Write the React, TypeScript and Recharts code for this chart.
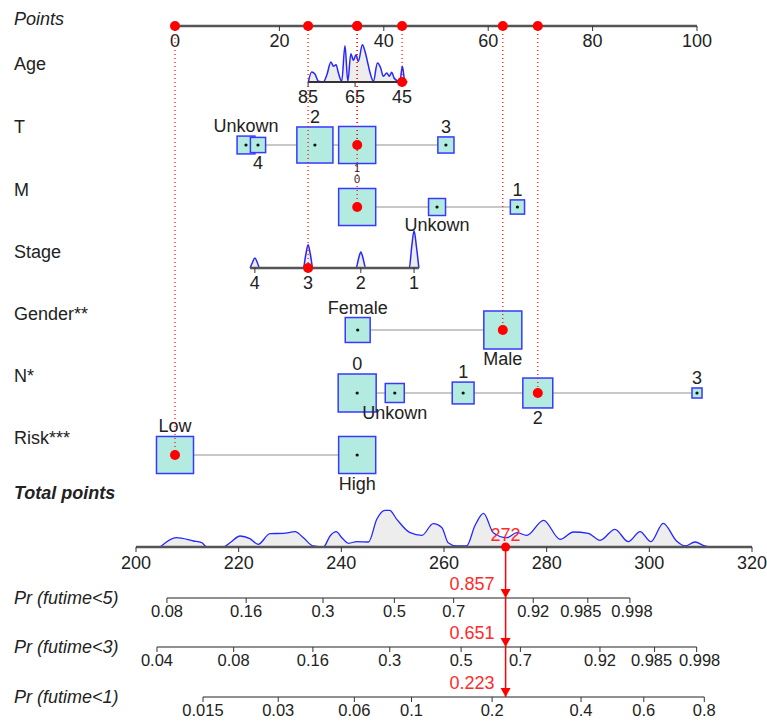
import React from "react";
import { ComposedChart, XAxis, YAxis, Line, Area, Scatter } from "recharts";

// ---------- values ----------
const pointTicks = [0, 20, 40, 60, 80, 100];

const rowTitles = [
  "Points", "Age", "T", "M", "Stage", "Gender**", "N*", "Risk***",
  "Total points", "Pr (futime<5)", "Pr (futime<3)", "Pr (futime<1)",
];

// Age: continuous, drawn reversed (85 on the left)
const ageTicks = [85, 65, 45];
const ageAnchors = [85, 45];
const ageAnchorPoints = [25.5, 43.5];
const ageGrid = [
  84.9, 83.5, 82.1, 80.6, 78.5, 77.0, 75.3, 74.2, 73.1, 72.1, 70.7, 69.3,
  68.1, 66.8, 65.7, 64.6, 63.6, 61.9, 60.8, 59.6, 58.6, 57.2, 55.5, 54.1,
  53.0, 51.5, 50.4, 49.4, 48.4, 47.0, 45.9, 44.9, 43.8, 42.8,
];
const ageDensity = [
  0, 10, 8, 0.7, 0, 7.3, 20, 15.7, 17.3, 9, 0.7, 36.3,
  0.7, 28.3, 21.7, 27.3, 20.7, 37.3, 30.7, 19, 9, 0.7, 19, 14,
  5.7, 9, 5.7, 9.7, 4, 1.3, 0.7, 15.7, 0.7, 0,
];

const tLevels = ["1", "2", "3", "4", "Unkown"];
const tPoints = [34.9, 26.8, 51.9, 15.9, 13.6];
const tCounts = [95, 90, 18, 16, 22];

const mLevels = ["0", "1", "Unkown"];
const mPoints = [34.9, 65.6, 50.2];
const mCounts = [95, 14, 20];

// Stage: ordinal axis with a density spike at each level
const stageLevels = [4, 3, 2, 1];
const stagePoints = [15.3, 25.5, 35.6, 45.8];
const stageGrid = [
  4.09, 4.045, 4, 3.955, 3.91, 3.09, 3.045, 3, 2.955, 2.91,
  2.09, 2.045, 2, 1.955, 1.91, 1.09, 1.045, 1, 0.955, 0.91,
];
const stageDensity = [
  0, 5.5, 10, 5.5, 0, 0, 13, 23.3, 13, 0,
  0, 9, 16, 9, 0, 0, 21, 37.3, 21, 0,
];

const genderLevels = ["Female", "Male"];
const genderPoints = [35.0, 62.8];
const genderCounts = [43, 100];

const nLevels = ["0", "1", "2", "3", "Unkown"];
const nPoints = [34.9, 55.2, 69.5, 100, 42.1];
const nCounts = [100, 33, 62, 7, 25];

const riskLevels = ["High", "Low"];
const riskPoints = [34.9, 0];
const riskCounts = [95, 95];

const totalTicks = [200, 220, 240, 260, 280, 300, 320];
const totalGrid = [
  204.7, 207.9, 211.2, 212.8, 213.8, 217.0, 218.3, 220.3, 222.2, 223.8,
  226.1, 228.7, 231.0, 232.6, 234.5, 236.5, 237.8, 239.0, 240.1, 241.4,
  243.0, 245.3, 246.9, 248.5, 249.4, 250.8, 253.4, 255.7, 257.9, 259.6,
  260.8, 262.5, 264.4, 266.0, 267.7, 269.6, 272.2, 274.2, 276.1, 279.4,
  282.6, 285.2, 288.1, 290.4, 293.3, 295.9, 298.2, 300.3, 302.7, 305.3,
  307.0, 308.9, 310.8, 311.8,
];
const totalDensity = [
  0, 9.3, 6, 4.3, 0, 0, 4.3, 11, 8.3, 2.7,
  13.3, 13.7, 15.3, 9.3, 1, 0, 11, 15.3, 9.3, 3.7,
  5.3, 5, 27.7, 36.7, 36.7, 27.7, 14.3, 11.7, 23.3, 19.3,
  4.3, 1, 1, 21, 33.7, 14.3, 9.3, 14.3, 11.7, 26.7,
  7.7, 15, 13.7, 6.7, 17.7, 5.3, 15.3, 5.3, 23.7, 6,
  1, 5, 1, 0,
];

const prTicks5 = [0.08, 0.16, 0.3, 0.5, 0.7, 0.92, 0.985, 0.998];
const prTicks3 = [0.04, 0.08, 0.16, 0.3, 0.5, 0.7, 0.92, 0.985, 0.998];
const prTicks1 = [0.015, 0.03, 0.06, 0.1, 0.2, 0.4, 0.6, 0.8];
// total points at which cloglog(Pr) = 0, and total points per cloglog unit
const prCenters = [258.0, 271.0, 300.75];
const prSlope = 20.92;
const prValues = [0.857, 0.651, 0.223];

// the patient shown in red
const selAge = 45;
const selT = "1";
const selM = "0";
const selStage = 3;
const selGender = "Male";
const selN = "2";
const selRisk = "Low";
const totalScore = 272;

// ---------- layout ----------
const W = 767;
const H = 721;
const FONT = "'Liberation Sans', Arial, Helvetica, sans-serif";
const TEXT = "#222";
const RED = "#ff0000";
const RED_TEXT = "#ff2b2b";
const BLUE = "#2626ff";
const BOX_FILL = "#b3ebe0";
const BOX_EDGE = "#3838ff";
const BOX_K = 3.8;

// pixel spans of the two point scales
const PTS_LEFT = 175;
const PTS_RIGHT = 697;
const TOT_LEFT = 136;
const TOT_RIGHT = 752;

const ROW = {
  points: 26, age: 82, T: 145, M: 207, stage: 268, gender: 330, N: 393,
  risk: 455, total: 547, pr5: 598, pr3: 647, pr1: 697,
};
const titleY = [19, 64, 127, 190, 252, 314, 376, 438, 493, 598, 647, 697];
// squeezed labels between the T and M rows: [font size, gap to box]
const smallLabels: Record<string, [number, number]> = { "T:1": [11, 4], "M:0": [11, 9] };
// labels nudged sideways (px) where they would collide
const labelNudge: Record<string, number> = {
  "pr5:0.985": -7, "pr5:0.998": 2, "pr3:0.985": -3, "pr3:0.998": 3,
};

const ptsPerPx = 100 / (PTS_RIGHT - PTS_LEFT);
const ptsDomain = [-PTS_LEFT * ptsPerPx, 100 + (W - PTS_RIGHT) * ptsPerPx];
const totPerPx = 120 / (TOT_RIGHT - TOT_LEFT);
const totDomain = [200 - TOT_LEFT * totPerPx, 320 + (W - TOT_RIGHT) * totPerPx];

const ptsOfAge = (a: number) =>
  ageAnchorPoints[0] +
  ((a - ageAnchors[0]) * (ageAnchorPoints[1] - ageAnchorPoints[0])) /
    (ageAnchors[1] - ageAnchors[0]);

const ptsOfStage = (s: number) => {
  let i = 0;
  while (i < stageLevels.length - 2 && s < stageLevels[i + 1]) i++;
  const s0 = stageLevels[i];
  const s1 = stageLevels[i + 1];
  return stagePoints[i] + ((s - s0) * (stagePoints[i + 1] - stagePoints[i])) / (s1 - s0);
};

const totalOfPr = (p: number, center: number) =>
  center + prSlope * Math.log(-Math.log(1 - p));

const fmt = (v: number) => String(v);

// ---------- derived series ----------
const ageArea = ageGrid.map((a, i) => ({ x: ptsOfAge(a), y: ROW.age - ageDensity[i] }));
const stageArea = stageGrid.map((s, i) => ({ x: ptsOfStage(s), y: ROW.stage - stageDensity[i] }));
const totalArea = totalGrid.map((t, i) => ({ x: t, y: ROW.total - totalDensity[i] }));

const catVars = [
  { key: "T", y: ROW.T, levels: tLevels, points: tPoints, counts: tCounts, sel: selT },
  { key: "M", y: ROW.M, levels: mLevels, points: mPoints, counts: mCounts, sel: selM },
  { key: "Gender", y: ROW.gender, levels: genderLevels, points: genderPoints, counts: genderCounts, sel: selGender },
  { key: "N", y: ROW.N, levels: nLevels, points: nPoints, counts: nCounts, sel: selN },
  { key: "Risk", y: ROW.risk, levels: riskLevels, points: riskPoints, counts: riskCounts, sel: selRisk },
];

// labels alternate above / below in order of points
const catBoxes = catVars.map((v) => {
  const order = v.levels.map((_, i) => i).sort((a, b) => v.points[a] - v.points[b]);
  return order.map((i, rank) => ({
    x: v.points[i],
    y: v.y,
    label: v.levels[i],
    n: v.counts[i],
    above: rank % 2 === 0,
    small: smallLabels[`${v.key}:${v.levels[i]}`],
  }));
});

const selected = [
  { x: ptsOfAge(selAge), y: ROW.age },
  ...catVars.map((v) => ({ x: v.points[v.levels.indexOf(v.sel)], y: v.y })),
  { x: ptsOfStage(selStage), y: ROW.stage },
];

const prRows = [
  { key: "pr5", y: ROW.pr5, ticks: prTicks5, center: prCenters[0], value: prValues[0] },
  { key: "pr3", y: ROW.pr3, ticks: prTicks3, center: prCenters[1], value: prValues[1] },
  { key: "pr1", y: ROW.pr1, ticks: prTicks1, center: prCenters[2], value: prValues[2] },
];

// ---------- shapes ----------
const tickShape = (len: number, gap: number, fs: number) => (p: any) => (
  <g>
    <line x1={p.cx} x2={p.cx} y1={p.cy} y2={p.cy + len} stroke="#333" strokeWidth={1} />
    <text x={p.cx + (p.payload.nudge || 0)} y={p.cy + gap} textAnchor="middle" dominantBaseline="central"
      fontSize={fs} fill={TEXT} fontFamily={FONT}>
      {p.payload.label}
    </text>
  </g>
);

const titleShape = (p: any) => (
  <text x={14} y={p.cy} dominantBaseline="central" fontSize={18} fill={TEXT} fontFamily={FONT}
    fontStyle={p.payload.italic ? "italic" : "normal"} fontWeight={p.payload.bold ? 700 : 400}>
    {p.payload.label}
  </text>
);

const boxShape = (p: any) => {
  const s = BOX_K * Math.sqrt(p.payload.n);
  const [fs, off] = p.payload.small || [18, 10];
  const ly = p.payload.above ? p.cy - s / 2 - off : p.cy + s / 2 + off;
  return (
    <g>
      <rect x={p.cx - s / 2} y={p.cy - s / 2} width={s} height={s} fill={BOX_FILL}
        stroke={BOX_EDGE} strokeWidth={1.5} />
      <circle cx={p.cx} cy={p.cy} r={1.6} fill="#111" />
      <text x={p.cx} y={ly} textAnchor="middle" dominantBaseline="central"
        fontSize={fs} fill={TEXT} fontFamily={FONT}>
        {p.payload.label}
      </text>
    </g>
  );
};

const redDot = (p: any) => <circle cx={p.cx} cy={p.cy} r={5} fill={RED} />;

const totalDot = (p: any) => (
  <g>
    <circle cx={p.cx} cy={p.cy} r={4.5} fill={RED} />
    <text x={p.cx} y={p.cy - 12} textAnchor="middle" dominantBaseline="central"
      fontSize={18} fill={RED_TEXT} fontFamily={FONT}>
      {p.payload.label}
    </text>
  </g>
);

const arrowShape = (p: any) => (
  <g>
    <path d={`M${p.cx - 5},${p.cy - 9} L${p.cx + 5},${p.cy - 9} L${p.cx},${p.cy} Z`} fill={RED} />
    <text x={p.cx - 11} y={p.cy - 14} textAnchor="end" dominantBaseline="central"
      fontSize={18} fill={RED_TEXT} fontFamily={FONT}>
      {p.payload.label}
    </text>
  </g>
);

const P = { xAxisId: "pts", yAxisId: "px", isAnimationActive: false } as const;
const T = { xAxisId: "tot", yAxisId: "px", isAnimationActive: false } as const;

export default function App() {
  return (
    <div style={{ position: "absolute", left: 0, top: 0, width: W, height: H, background: "#fff" }}>
      <ComposedChart width={W} height={H} margin={{ top: 0, right: 0, bottom: 0, left: 0 }}>
        <XAxis xAxisId="pts" type="number" dataKey="x" domain={ptsDomain} allowDataOverflow hide />
        <XAxis xAxisId="tot" type="number" dataKey="x" domain={totDomain} allowDataOverflow hide />
        <YAxis yAxisId="px" type="number" dataKey="y" domain={[0, H]} reversed allowDataOverflow hide />

        {/* densities */}
        <Area {...P} data={ageArea} dataKey="y" type="monotone" baseValue={ROW.age}
          stroke={BLUE} strokeWidth={1.5} fill="#ededed" fillOpacity={1} dot={false} activeDot={false} zIndex={100} />
        <Area {...P} data={stageArea} dataKey="y" type="monotone" baseValue={ROW.stage}
          stroke={BLUE} strokeWidth={1.5} fill="#ededed" fillOpacity={1} dot={false} activeDot={false} zIndex={100} />
        <Area {...T} data={totalArea} dataKey="y" type="monotone" baseValue={ROW.total}
          stroke={BLUE} strokeWidth={1.3} fill="#ededed" fillOpacity={1} dot={false} activeDot={false} zIndex={100} />

        {/* axis lines */}
        <Line {...P} data={[{ x: pointTicks[0], y: ROW.points }, { x: pointTicks[pointTicks.length - 1], y: ROW.points }]}
          dataKey="y" stroke="#555" strokeWidth={2.5} dot={false} activeDot={false} zIndex={200} />
        <Line {...P} data={[{ x: ageArea[0].x, y: ROW.age }, { x: ageArea[ageArea.length - 1].x, y: ROW.age }]}
          dataKey="y" stroke="#333" strokeWidth={2} dot={false} activeDot={false} zIndex={200} />
        <Line {...P} data={[{ x: stageArea[0].x, y: ROW.stage }, { x: stageArea[stageArea.length - 1].x, y: ROW.stage }]}
          dataKey="y" stroke="#555" strokeWidth={2.5} dot={false} activeDot={false} zIndex={200} />
        <Line {...T} data={[{ x: totalTicks[0], y: ROW.total }, { x: totalTicks[totalTicks.length - 1], y: ROW.total }]}
          dataKey="y" stroke="#555" strokeWidth={2.5} dot={false} activeDot={false} zIndex={200} />
        {prRows.map((r, i) => (
          <Line key={`pr-axis-${i}`} {...T}
            data={[{ x: totalOfPr(r.ticks[0], r.center), y: r.y }, { x: totalOfPr(r.ticks[r.ticks.length - 1], r.center), y: r.y }]}
            dataKey="y" stroke="#222" strokeWidth={1.2} dot={false} activeDot={false} zIndex={200} />
        ))}

        {/* connectors between categories */}
        {catBoxes.map((boxes, i) => (
          <Line key={`conn-${i}`} {...P}
            data={[{ x: boxes[0].x, y: boxes[0].y }, { x: boxes[boxes.length - 1].x, y: boxes[0].y }]}
            dataKey="y" stroke="#c8c8c8" strokeWidth={2} dot={false} activeDot={false} zIndex={200} />
        ))}

        {/* boxes */}
        {catBoxes.map((boxes, i) => (
          <Scatter key={`box-${i}`} {...P} data={boxes} shape={boxShape} zIndex={300} />
        ))}

        {/* ticks and labels */}
        <Scatter {...P} data={pointTicks.map((v) => ({ x: v, y: ROW.points, label: fmt(v) }))}
          shape={tickShape(5, 15, 18)} zIndex={300} />
        <Scatter {...P} data={ageTicks.map((v) => ({ x: ptsOfAge(v), y: ROW.age, label: fmt(v) }))}
          shape={tickShape(5, 15, 18)} zIndex={300} />
        <Scatter {...P} data={stageLevels.map((v) => ({ x: ptsOfStage(v), y: ROW.stage, label: fmt(v) }))}
          shape={tickShape(5, 15, 18)} zIndex={300} />
        <Scatter {...T} data={totalTicks.map((v) => ({ x: v, y: ROW.total, label: fmt(v) }))}
          shape={tickShape(5, 16, 18)} zIndex={300} />
        {prRows.map((r, i) => (
          <Scatter key={`pr-ticks-${i}`} {...T}
            data={r.ticks.map((v) => ({
              x: totalOfPr(v, r.center), y: r.y, label: fmt(v),
              nudge: labelNudge[`${r.key}:${fmt(v)}`] || 0,
            }))}
            shape={tickShape(5, 13, 16.5)} zIndex={300} />
        ))}

        {/* row titles */}
        <Scatter {...P}
          data={rowTitles.map((t, i) => ({
            x: 0, y: titleY[i], label: t,
            italic: i === 0 || i >= 8, bold: i === 8,
          }))}
          shape={titleShape} zIndex={300} />

        {/* red guides for the patient */}
        {selected.map((s, i) => (
          <Line key={`guide-${i}`} {...P} data={[{ x: s.x, y: ROW.points }, { x: s.x, y: s.y }]}
            dataKey="y" stroke={RED} strokeWidth={1.2} strokeDasharray="1 3" dot={false} activeDot={false} zIndex={700} />
        ))}
        <Scatter {...P} data={selected.map((s) => ({ x: s.x, y: ROW.points }))} shape={redDot} zIndex={800} />
        <Scatter {...P} data={selected} shape={redDot} zIndex={800} />

        <Line {...T} data={[{ x: totalScore, y: ROW.total }, { x: totalScore, y: ROW.pr1 }]}
          dataKey="y" stroke={RED} strokeWidth={1.5} dot={false} activeDot={false} zIndex={700} />
        <Scatter {...T} data={[{ x: totalScore, y: ROW.total, label: fmt(totalScore) }]} shape={totalDot} zIndex={800} />
        <Scatter {...T} data={prRows.map((r) => ({ x: totalScore, y: r.y, label: fmt(r.value) }))}
          shape={arrowShape} zIndex={800} />
      </ComposedChart>
    </div>
  );
}
